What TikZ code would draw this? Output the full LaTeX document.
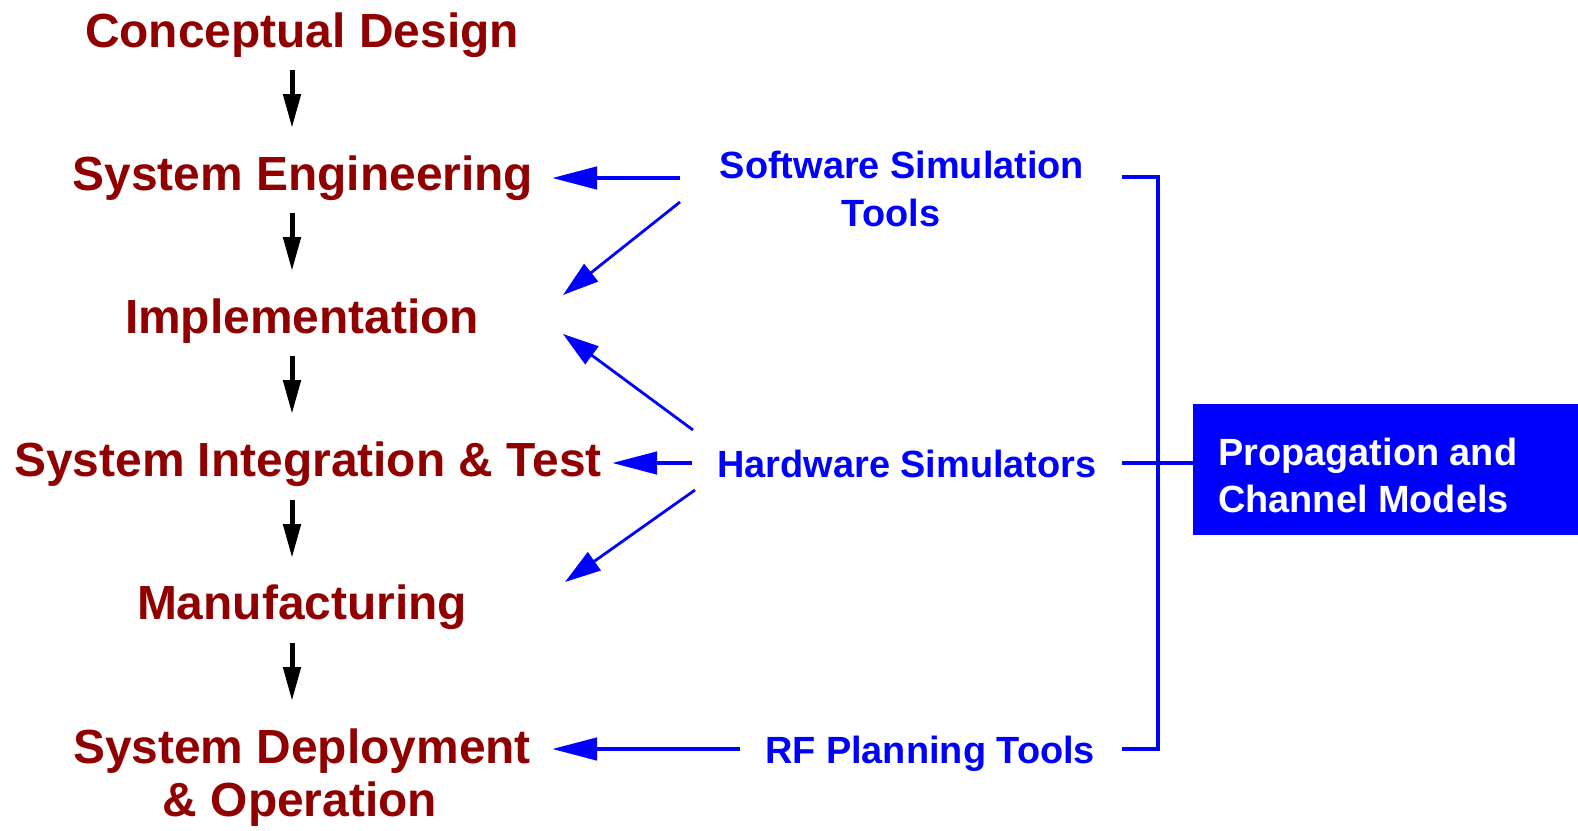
\documentclass[tikz,border=0pt]{standalone}
\usepackage{fontspec}
\setmainfont{Liberation Sans}
\usetikzlibrary{arrows.meta}
\definecolor{dred}{RGB}{145,0,0}
\definecolor{pblue}{RGB}{0,0,255}
\tikzset{
  stage/.style={anchor=base, text=dred, font=\fontsize{47.9}{53}\selectfont\bfseries, inner sep=0pt},
  tool/.style={anchor=base, text=pblue, font=\fontsize{37.9}{48}\selectfont\bfseries, inner sep=0pt},
  flow/.style={line width=5pt, draw=black, -{Triangle[length=34pt,width=17pt]}},
  feedh/.style={line width=4.5pt, draw=pblue, -{Triangle[length=45pt,width=22pt]}},
  feedd/.style={line width=2.8pt, draw=pblue, -{Triangle[length=36pt,width=22pt]}},
  brk/.style={line width=4.5pt, draw=pblue},
}
\begin{document}
\begin{tikzpicture}[x=1pt,y=-1pt]
\useasboundingbox (0,0) rectangle (1578,830);
% stages
\node[stage] (cd) at (302,47) {Conceptual Design};
\node[stage] (se) at (303,190) {System Engineering};
\node[stage] (im) at (302,333) {Implementation};
\node[stage] (si) at (308,476) {System Integration \& Test};
\node[stage] (mf) at (302,619) {Manufacturing};
\node[stage] (sd) at (302,763) {System Deployment};
\node[stage] (sd2) at (300,816) {\& Operation};
% flow arrow coordinates
\coordinate (a1s) at (292,70); \coordinate (a1e) at (292,128);
\coordinate (a2s) at (292,213); \coordinate (a2e) at (292,271);
\coordinate (a3s) at (292,356); \coordinate (a3e) at (292,414);
\coordinate (a4s) at (292,500); \coordinate (a4e) at (292,558);
\coordinate (a5s) at (292,643); \coordinate (a5e) at (292,701);
\draw[flow] (a1s) -- (a1e);
\draw[flow] (a2s) -- (a2e);
\draw[flow] (a3s) -- (a3e);
\draw[flow] (a4s) -- (a4e);
\draw[flow] (a5s) -- (a5e);
% tools
\node[tool] (sw) at (902,178) {Software Simulation};
\node[tool] (sw2) at (891,226) {Tools};
\node[tool] (hw) at (907,477) {Hardware Simulators};
\node[tool] (rf) at (930,763) {RF Planning Tools};
% box
\node[draw=none, fill=pblue, minimum width=385pt, minimum height=131pt, anchor=north west, inner sep=0pt] (box) at (1193,404) {};
\node[anchor=base west, text=white, font=\fontsize{37.9}{48}\selectfont\bfseries, inner sep=0pt] (bt1) at (1218,465) {Propagation and};
\node[anchor=base west, text=white, font=\fontsize{37.9}{48}\selectfont\bfseries, inner sep=0pt] (bt2) at (1218,512) {Channel Models};
% feedback arrows
\coordinate (f1s) at (680,178); \coordinate (f1e) at (552,178);
\coordinate (f2s) at (680,202); \coordinate (f2e) at (563,295);
\coordinate (f3s) at (693,430); \coordinate (f3e) at (563,334);
\coordinate (f4s) at (692,463); \coordinate (f4e) at (612,463);
\coordinate (f5s) at (695,490); \coordinate (f5e) at (565,582);
\coordinate (f6s) at (740,749); \coordinate (f6e) at (552,749);
\draw[feedh] (f1s) -- (f1e);
\draw[feedd] (f2s) -- (f2e);
\draw[feedd] (f3s) -- (f3e);
\draw[feedh] (f4s) -- (f4e);
\draw[feedd] (f5s) -- (f5e);
\draw[feedh] (f6s) -- (f6e);
% bracket
\coordinate (b1) at (1122,177); \coordinate (b2) at (1158,177);
\coordinate (b3) at (1158,749); \coordinate (b4) at (1122,749);
\coordinate (b5) at (1122,463);
\draw[brk] (b1) -- (b2) -- (b3) -- (b4);
\draw[brk] (b5) -- (box.west |- b5);
\end{tikzpicture}
\end{document}
